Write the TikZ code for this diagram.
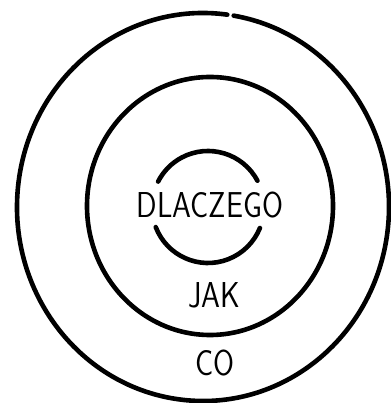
\documentclass[tikz,border=0pt]{standalone}
\usepackage{tikz}
\usetikzlibrary{positioning}

\begin{document}
\begin{tikzpicture}[
  x=1pt, y=1pt,
  every node/.style={font=\sffamily\fontsize{36}{36}\selectfont, inner sep=0pt},
  ring/.style={draw, line width=4.6pt, line cap=round},
  lbl/.style={xscale=0.84}
]
\useasboundingbox (0,0) rectangle (390,403);
% ── outer ring (CO) ─────────────────────────────
\draw[ring] (203,196) ++(82.5:186 and 194)
  arc[start angle=82.5, end angle=440.5, x radius=186, y radius=194];
% ── middle ring (JAK) ───────────────────────────
\draw[ring] (210,197) ellipse[x radius=123, y radius=129];
% ── inner ring (DLACZEGO), open at the sides ───
\draw[ring] (208,196) ++(28:56) arc[start angle=28, end angle=153, radius=56];
\draw[ring] (208,196) ++(201:56) arc[start angle=201, end angle=338, radius=56];
% ── labels ──────────────────────────────────────
\node[lbl] (why) at (210,198) {DLACZEGO};
\node[lbl] (how) at (214,108) {JAK};
\node[lbl] (what) at (215,40) {CO};
\end{tikzpicture}
\end{document}
